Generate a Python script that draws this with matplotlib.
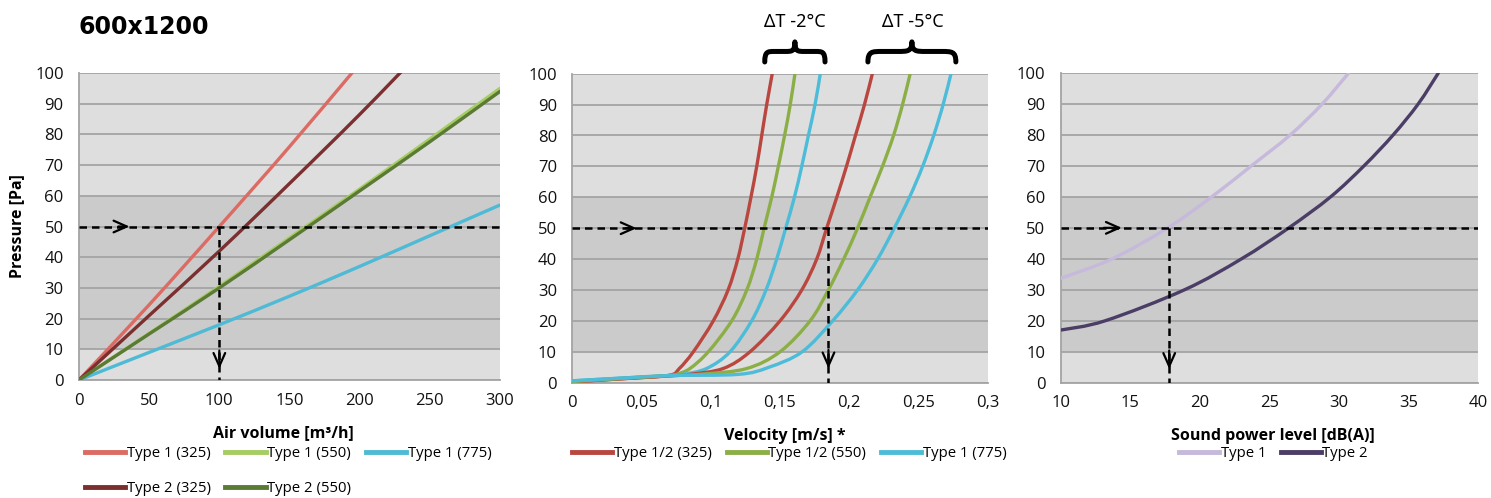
import numpy as np
import matplotlib
matplotlib.use("Agg")
import matplotlib.pyplot as plt
from matplotlib.path import Path
from matplotlib.patches import PathPatch
from matplotlib.lines import Line2D

# ---------------- data ----------------
title = "600x1200"
y_ticks = [0, 10, 20, 30, 40, 50, 60, 70, 80, 90, 100]

# Panel 1: air volume [m3/h] vs pressure [Pa]
vol = [0, 50, 100, 150, 200, 250, 300]
p_t1_325 = [0, 24.5, 50, 76, 103, 130, 157]
p_t2_325 = [0, 21, 42, 64, 86.5, 110, 133]
p_t1_550 = [0, 15.2, 30.5, 46.3, 62.2, 78.5, 95]
p_t2_550 = [0, 15, 30, 45.7, 61.6, 77.6, 94]
p_t1_775 = [0, 9, 18, 27.3, 37, 47, 57]
vol_ticks = [0, 50, 100, 150, 200, 250, 300]

# Panel 2: velocity [m/s] vs pressure [Pa]
v_p_red1 = [0.3, 1.4, 2.4, 4.6, 10, 20, 30, 40, 50, 60, 70, 80, 90, 100]
v_red1 = [0, 0.04, 0.07, 0.0773, 0.0874, 0.1018, 0.1125, 0.1195, 0.1245, 0.129, 0.1332, 0.1368, 0.1404, 0.1444]
v_p_green1 = [0.4, 1.5, 2.3, 2.8, 4.6, 10, 20, 30, 40, 50, 60, 70, 80, 90, 100]
v_green1 = [0, 0.04, 0.07, 0.076, 0.085, 0.0982, 0.1151, 0.126, 0.1332, 0.1385, 0.144, 0.1488, 0.1533, 0.1574, 0.1608]
v_p_cyan1 = [0.6, 1.6, 2.3, 2.7, 4.6, 10, 20, 30, 40, 50, 60, 70, 80, 90, 100]
v_cyan1 = [0, 0.04, 0.07, 0.08, 0.097, 0.1139, 0.1295, 0.1399, 0.1476, 0.1541, 0.1604, 0.1657, 0.1705, 0.1753, 0.1791]
v_p_red2 = [0.3, 1.4, 2.2, 2.7, 4.6, 10, 20, 30, 40, 50, 60, 70, 80, 90, 100]
v_red2 = [0, 0.04, 0.07, 0.085, 0.109, 0.1283, 0.15, 0.1657, 0.1765, 0.1837, 0.191, 0.198, 0.2045, 0.211, 0.2167]
v_p_green2 = [0.4, 1.5, 2.3, 2.8, 4.6, 10, 20, 30, 40, 50, 60, 70, 80, 90, 100]
v_green2 = [0, 0.04, 0.07, 0.095, 0.126, 0.15, 0.1717, 0.1849, 0.196, 0.206, 0.215, 0.224, 0.232, 0.2385, 0.244]
v_p_cyan2 = [0.6, 1.6, 2.3, 2.7, 5, 10, 20, 30, 40, 50, 60, 70, 80, 90, 100]
v_cyan2 = [0, 0.04, 0.07, 0.12, 0.142, 0.166, 0.188, 0.206, 0.2205, 0.2325, 0.2435, 0.253, 0.261, 0.2678, 0.2735]
vel_ticks = [0, 0.05, 0.1, 0.15, 0.2, 0.25, 0.3]
vel_tick_labels = ["0", "0,05", "0,1", "0,15", "0,2", "0,25", "0,3"]

# Panel 3: sound power level [dB(A)] vs pressure [Pa]
s_p_type1 = [33.7, 40, 50, 60, 70, 80, 90, 100]
s_type1 = [10, 13.7, 17.7, 20.85, 23.7, 26.5, 28.8, 30.7]
s_p_type2 = [17, 20, 30, 40, 50, 60, 70, 80, 90, 100]
s_type2 = [10, 13.2, 18.9, 23.0, 26.4, 29.4, 31.8, 33.9, 35.7, 37.15]
snd_ticks = [10, 15, 20, 25, 30, 35, 40]

# reading example (dashed guides)
guide_p = 50
guide_vol = 100
guide_vel = 0.185
guide_snd = 17.8

# ---------------- style ----------------
FONT = "Open Sans"
BG_LIGHT = "#dedede"
BG_DARK = "#cbcbcb"
GRID = "#a4a4a4"
LW = 2.4
TICK_FS = 12
LEG_FS = 10.7
LAB_FS = 11.5

fig = plt.figure(figsize=(14.91, 4.98), dpi=100)
W, H = 1491, 498


def fx(px):
    return px / W


def fy(py):
    return 1 - py / H


def make_ax(l, r, t, b):
    return fig.add_axes([fx(l), fy(b), fx(r) - fx(l), fy(t) - fy(b)])


ax1 = make_ax(79, 500, 73, 380)
ax2 = make_ax(572.3, 987.7, 73.7, 382.7)
ax3 = make_ax(1060.7, 1478, 73, 382.7)


def smooth(ax, x, y, color, label=None):
    """Draw a smoothed (Catmull-Rom) line through the data points."""
    P = np.column_stack([x, y]).astype(float)
    n = len(P)
    verts = [tuple(P[0])]
    codes = [Path.MOVETO]
    for i in range(n - 1):
        p0 = P[i - 1] if i > 0 else P[i]
        p1, p2 = P[i], P[i + 1]
        p3 = P[i + 2] if i + 2 < n else P[i + 1]
        c1 = p1 + (p2 - p0) / 6.0
        c2 = p2 - (p3 - p1) / 6.0
        verts += [tuple(c1), tuple(c2), tuple(p2)]
        codes += [Path.CURVE4] * 3
    ax.add_patch(PathPatch(Path(verts, codes), fill=False, edgecolor=color, lw=LW,
                           capstyle="round", joinstyle="round", zorder=3))
    return Line2D([], [], color=color, lw=3.5, label=label)


def style(ax, xlim, xticks, xlabels, xlabel, xl_cx):
    ax.set_facecolor(BG_LIGHT)
    ax.axhspan(10, 60, color=BG_DARK, zorder=0.2, lw=0)
    ax.set_xlim(*xlim)
    ax.set_ylim(0, 100)
    ax.set_yticks(y_ticks)
    ax.set_xticks(xticks)
    ax.set_xticklabels(xlabels)
    ax.set_axisbelow(True)
    ax.grid(axis="y", color=GRID, lw=1.3, zorder=0.5)
    for s in ["top", "right"]:
        ax.spines[s].set_visible(False)
    for s in ["left", "bottom"]:
        ax.spines[s].set_color(GRID)
        ax.spines[s].set_linewidth(1.3)
    ax.tick_params(length=0, labelsize=TICK_FS, colors="#111111")
    ax.tick_params(axis="x", pad=9)
    ax.tick_params(axis="y", pad=11)
    for lab in ax.get_xticklabels() + ax.get_yticklabels():
        lab.set_fontfamily(FONT)
    ax.set_xlabel(xlabel, fontsize=LAB_FS, fontweight="bold", family=FONT, va="center")
    ax.xaxis.set_label_coords(xl_cx, -0.172)


def guides(ax, xg, x0, x1, arrow_x, arrow_dx, vtip):
    kw = dict(color="black", lw=1.8, dashes=(3, 2), zorder=5)
    ax.plot([x0, x1], [guide_p, guide_p], **kw)
    ax.plot([xg, xg], [guide_p, 0], **kw)
    ak = dict(arrowstyle="->,head_length=0.95,head_width=0.42", lw=1.6, color="black",
              mutation_scale=10, shrinkA=0, shrinkB=0)
    ax.annotate("", xy=(arrow_x, guide_p), xytext=(arrow_x - arrow_dx, guide_p),
                arrowprops=ak, zorder=6)
    ax.annotate("", xy=(xg, vtip), xytext=(xg, vtip + 6), arrowprops=ak, zorder=6)


leg_kw = dict(frameon=False, handlelength=2.7, handletextpad=0.1,
              borderpad=0, borderaxespad=0, columnspacing=1.0,
              bbox_transform=fig.transFigure, loc="upper left",
              prop={"family": FONT, "size": LEG_FS})
LEG_TOP = 446

# ---- panel 1 ----
style(ax1, (0, 300), vol_ticks, [str(t) for t in vol_ticks], "Air volume [m³/h]", 0.485)
h_t1_325 = smooth(ax1, vol, p_t1_325, "#db6b63", "Type 1 (325)")
h_t1_550 = smooth(ax1, vol, p_t1_550, "#a6cc64", "Type 1 (550)")
h_t1_775 = smooth(ax1, vol, p_t1_775, "#4fbad5", "Type 1 (775)")
h_t2_325 = smooth(ax1, vol, p_t2_325, "#7b2f2f", "Type 2 (325)")
h_t2_550 = smooth(ax1, vol, p_t2_550, "#5b7a34", "Type 2 (550)")
guides(ax1, guide_vol, 0, 300, 36, 8, 3.6)
ax1.set_ylabel("Pressure [Pa]", fontsize=LAB_FS, fontweight="bold", family=FONT, va="center")
ax1.yaxis.set_label_coords(-0.147, 0.5)
ax1.legend([h_t1_325, h_t2_325, h_t1_550, h_t2_550, h_t1_775],
           ["Type 1 (325)", "Type 2 (325)", "Type 1 (550)", "Type 2 (550)", "Type 1 (775)"],
           ncol=3, labelspacing=1.35, bbox_to_anchor=(fx(85), fy(LEG_TOP)), **leg_kw)

# ---- panel 2 ----
style(ax2, (0, 0.3), vel_ticks, vel_tick_labels, "Velocity [m/s] *", 0.512)
RED, GREEN, CYAN = "#b9473f", "#8cae47", "#4dbcd8"
r1 = smooth(ax2, v_red1, v_p_red1, RED, "Type 1/2 (325)")
g1 = smooth(ax2, v_green1, v_p_green1, GREEN, "Type 1/2 (550)")
c1 = smooth(ax2, v_cyan1, v_p_cyan1, CYAN, "Type 1 (775)")
smooth(ax2, v_red2, v_p_red2, RED)
smooth(ax2, v_green2, v_p_green2, GREEN)
smooth(ax2, v_cyan2, v_p_cyan2, CYAN)
guides(ax2, guide_vel, 0, 0.3, 0.0465, 0.008, 4.6)
ax2.legend([r1, g1, c1], ["Type 1/2 (325)", "Type 1/2 (550)", "Type 1 (775)"],
           ncol=3, bbox_to_anchor=(fx(572.3), fy(LEG_TOP)), **leg_kw)


def brace(ax, x0, x1, yb, ym, yt):
    d = 0.16 * (x1 - x0)
    xc = 0.5 * (x0 + x1)
    verts = [(x0, yb),
             (x0, ym), (x0 + 0.3 * d, ym), (x0 + d, ym),
             (xc - d, ym),
             (xc - 0.3 * d, ym), (xc, ym), (xc, yt),
             (xc, ym), (xc + 0.3 * d, ym), (xc + d, ym),
             (x1 - d, ym),
             (x1 - 0.3 * d, ym), (x1, ym), (x1, yb)]
    codes = [Path.MOVETO,
             Path.CURVE4, Path.CURVE4, Path.CURVE4,
             Path.LINETO,
             Path.CURVE4, Path.CURVE4, Path.CURVE4,
             Path.CURVE4, Path.CURVE4, Path.CURVE4,
             Path.LINETO,
             Path.CURVE4, Path.CURVE4, Path.CURVE4]
    ax.add_patch(PathPatch(Path(verts, codes), fill=False, lw=3.6, color="black",
                           clip_on=False, capstyle="round", joinstyle="round"))


brace(ax2, 0.139, 0.1825, 103.8, 107.2, 110.3)
brace(ax2, 0.2135, 0.277, 103.8, 107.2, 110.3)
ax2.text(0.1608, 116.7, "ΔT -2°C", ha="center", va="center", fontsize=13, family="Noto Sans",
         clip_on=False)
ax2.text(0.2458, 116.7, "ΔT -5°C", ha="center", va="center", fontsize=13, family="Noto Sans",
         clip_on=False)

# ---- panel 3 ----
style(ax3, (10, 40), snd_ticks, [str(t) for t in snd_ticks], "Sound power level [dB(A)]", 0.508)
s1 = smooth(ax3, s_type1, s_p_type1, "#c6b9dc", "Type 1")
s2 = smooth(ax3, s_type2, s_p_type2, "#4b3d66", "Type 2")
guides(ax3, guide_snd, 10, 40, 14.4, 1.3, 4.4)
ax3.legend([s1, s2], ["Type 1", "Type 2"], ncol=2,
           bbox_to_anchor=(fx(1179), fy(LEG_TOP)), **leg_kw)

fig.text(fx(79), fy(27), title, fontsize=17, fontweight="bold", family="DejaVu Sans",
         ha="left", va="center")

fig.savefig("out.png", dpi=100)
